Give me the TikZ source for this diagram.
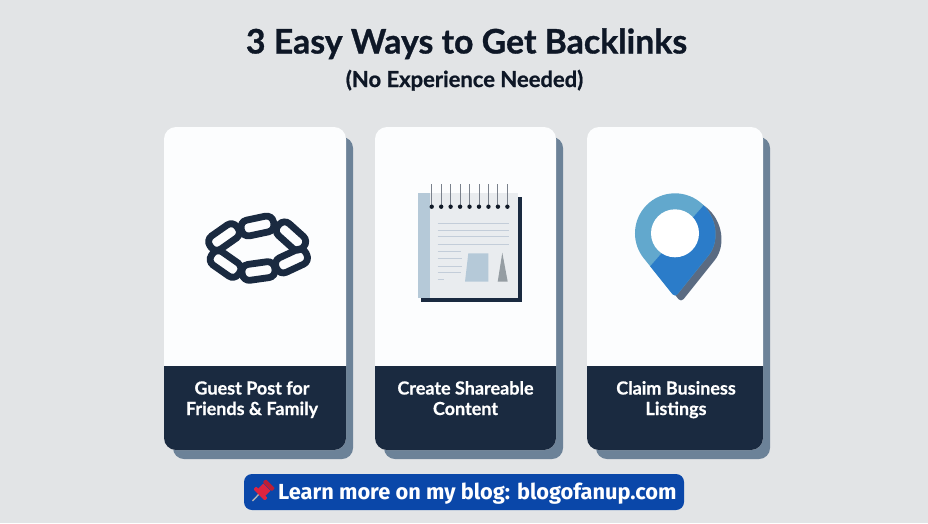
\documentclass[tikz,border=0pt]{standalone}
\usepackage{fontspec}
\setmainfont{Lato}[BoldFeatures={FakeBold=0.9}]
\newfontfamily\labfont{Lato}[BoldFeatures={FakeBold=0.6}]
\newfontfamily\btnfont{Fira Sans}
\definecolor{bgc}{HTML}{E2E4E6}
\definecolor{cardc}{HTML}{FCFDFE}
\definecolor{darkc}{HTML}{1A2A40}
\definecolor{shadc}{HTML}{6C8298}
\definecolor{titlec}{HTML}{0E1726}
\definecolor{pagec}{HTML}{E9ECEF}
\definecolor{stripc}{HTML}{B5C9D8}
\definecolor{linec}{HTML}{C3CDD9}
\definecolor{pinl}{HTML}{62A8CD}
\definecolor{pind}{HTML}{2B7CC9}
\definecolor{pins}{HTML}{5A6B82}
\definecolor{btnc}{HTML}{0A47A9}
\definecolor{redc}{HTML}{DD2440}
\definecolor{ringc}{HTML}{7A818C}
\tikzset{
  chainlink/.style={draw=darkc,line width=6.8pt,rounded corners=7pt},
  cardtext/.style={text=white,font=\labfont\bfseries\fontsize{18}{20.5}\selectfont,align=center,inner sep=0pt,anchor=base},
  pageline/.style={draw=linec,line width=.9pt},
  ringline/.style={draw=ringc,line width=1pt}
}
\begin{document}
\begin{tikzpicture}[x=1pt,y=-1pt]
\useasboundingbox (0,0) rectangle (928,523);
\fill[bgc] (0,0) rectangle (928,523);
% cards
\foreach \l/\r/\s in {164/346/353,375/556/563,587/763/770}{
  \fill[shadc,rounded corners=11pt] (\l+9,137) rectangle (\s,459);
  \fill[cardc,rounded corners=12pt] (\l,127) rectangle (\r,450);
  \fill[darkc] (\l,366) [rounded corners=12pt] -- (\l,450) -- (\r,450) [sharp corners] -- (\r,366) -- cycle;
}
% title
\node[text=titlec,font=\bfseries\fontsize{33.8}{38}\selectfont,inner sep=0pt,anchor=base] (title) at (466.5,53.5) {3 Easy Ways to Get Backlinks};
\node[text=titlec,font=\bfseries\fontsize{22}{25}\selectfont,inner sep=0pt,anchor=base] (subtitle) at (464.5,87) {(No Experience Needed)};
% labels
\node[cardtext] (lab1a) at (252,394.5) {Guest Post for};
\node[cardtext] (lab1b) at (252,415) {Friends \& Family};
\node[cardtext] (lab2a) at (465.5,394.5) {Create Shareable};
\node[cardtext] (lab2b) at (465.5,415) {Content};
\node[cardtext] (lab3a) at (676,394.5) {Claim Business};
\node[cardtext] (lab3b) at (676,415) {Listings};
% chain
\foreach \cx/\cy/\rt in {224/237/35,225.5/264/-35,291/236/-42,291.5/261/25,257.5/226/12,258.5/271/8}{
  \draw[chainlink,rotate around={\rt:(\cx,\cy)}] (\cx-16.5,\cy-8) rectangle (\cx+16.5,\cy+8);
}
% notebook
\fill[darkc] (421,197) rectangle (521.7,301.5);
\fill[pagec] (418.3,193.3) rectangle (518.3,298.3);
\fill[stripc] (418.3,193.3) rectangle (430,298.3);
\foreach \y in {223.3,230,236.7,244}{\draw[pageline] (437.7,\y) -- (509,\y);}
\foreach \y/\e in {251/461,258.7/462.3,266/461.7,272.3/461,279/444.3}{\draw[pageline] (437.7,\y) -- (\e,\y);}
\fill[stripc] (468.3,253.3) -- (488.3,253.3) -- (488.3,281.7) -- (465,281.7) -- cycle;
\fill[gray!60!stripc] (502.3,252.7) -- (507.7,281.7) -- (497.7,281.7) -- cycle;
\foreach \i in {0,...,8}{
  \draw[ringline] (431.7+\i*9.46,184.3) -- (431.7+\i*9.46,206.5);
  \fill[darkc!60!black] (431.7+\i*9.46,206.7) circle (2.2);
}
% pin
\fill[pins,shift={(6pt,-5pt)}] (643.8,258.3) [rounded corners=4pt] -- (675,297.3) -- (706.2,258.3) [sharp corners] arc[start angle=38.7,end angle=-218.7,radius=40] -- cycle;
\begin{scope}
\clip (643.8,258.3) [rounded corners=4pt] -- (675,297.3) -- (706.2,258.3) [sharp corners] arc[start angle=38.7,end angle=-218.7,radius=40] -- cycle;
\fill[pinl] (620,180) rectangle (740,310);
\fill[pind] (704,205) -- (740,205) -- (740,310) -- (620,310) -- (649.3,267.3) -- cycle;
\end{scope}
\fill[white] (675,233.3) circle (24);
% button
\fill[btnc,rounded corners=8pt] (244,474) rectangle (684,510);
\node[text=white,font=\btnfont\bfseries\fontsize{21.8}{24}\selectfont,anchor=base west,inner sep=0pt] (btn) at (278,499.3) {Learn more on my blog: blogofanup.com};
% push-pin
\draw[gray!60,line width=1.4pt] (252.5,501) -- (261,492);
\begin{scope}[rotate around={-45:(264,490)}]
\fill[redc] (259,486) rectangle (269,494);
\fill[redc,rounded corners=1pt] (256,493) rectangle (272,497);
\fill[redc!85!black,rounded corners=1pt] (257.5,481) rectangle (270.5,485.5);
\end{scope}
\end{tikzpicture}
\end{document}
